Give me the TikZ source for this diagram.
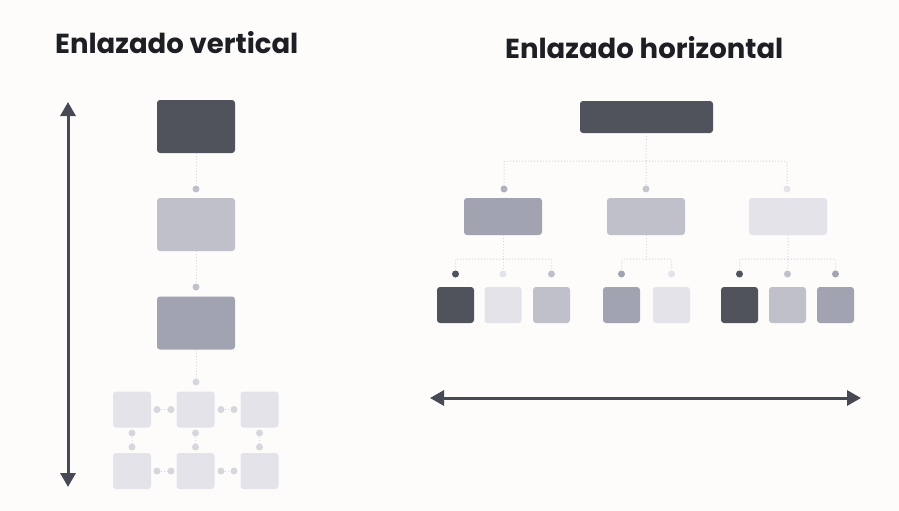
\documentclass[tikz,border=0pt]{standalone}
\usepackage{fontspec}
\setmainfont{Poppins}
\usepackage{tikz}
\usetikzlibrary{arrows.meta}

\definecolor{ink}{HTML}{1E1F24}
\definecolor{shaft}{HTML}{474A54}
\definecolor{tonea}{HTML}{50535B}
\definecolor{toneb}{HTML}{A2A3B0}
\definecolor{tonec}{HTML}{C0C0CA}
\definecolor{toned}{HTML}{E4E3EA}
\definecolor{wire}{HTML}{D6D6DD}
\definecolor{paper}{HTML}{FDFCFB}

\begin{document}
\begin{tikzpicture}[x=1pt,y=-1pt,
    box/.style={rounded corners=3pt,inner sep=0pt,outer sep=0pt},
    bigbox/.style={box,minimum width=78pt,minimum height=53pt},
    midbox/.style={box,minimum width=78pt,minimum height=37pt},
    rootbox/.style={box,minimum width=133pt,minimum height=32pt},
    leaf/.style={box,minimum width=37pt,minimum height=36pt},
    tile/.style={box,fill=toned,minimum width=38pt,minimum height=36pt},
    dot/.style={circle,inner sep=0pt,outer sep=0pt,minimum size=7pt},
    link/.style={draw=wire,line width=1pt,dotted},
    span/.style={draw=shaft,line width=3pt,{Triangle[length=14pt,width=15pt]}-{Triangle[length=14pt,width=15pt]}},
    title/.style={anchor=base west,inner sep=0pt,text=ink,font=\fontsize{27.5}{30}\selectfont\bfseries}]
  \fill[paper] (0,0) rectangle (899,511);

  \node[title] (tv) at (55,53) {Enlazado vertical};
  \node[title] (th) at (505,59) {Enlazado horizontal};

  % vertical chain
  \coordinate (vtop) at (68,102);
  \coordinate (vbot) at (68,487);
  \draw[span] (vbot) -- (vtop);

  \node[bigbox,fill=tonea] (v1) at (196,126.5) {};
  \node[bigbox,fill=tonec] (v2) at (196,224.5) {};
  \node[bigbox,fill=toneb] (v3) at (196,323) {};
  \node[dot,fill=tonec] (vd1) at (196,189) {};
  \node[dot,fill=tonec] (vd2) at (196,287) {};
  \node[dot,fill=wire] (vd3) at (196,382) {};
  \draw[link] (v1) -- (vd1);
  \draw[link] (v2) -- (vd2);
  \draw[link] (v3) -- (vd3);

  \foreach \c/\x in {1/132,2/195.5,3/259.5} {
    \node[tile] (g1\c) at (\x,409.5) {};
    \node[tile] (g2\c) at (\x,471) {};
  }
  \foreach \r/\y in {1/409.5,2/471} {
    \node[dot,fill=wire] (h\r a) at (157,\y) {};
    \node[dot,fill=wire] (h\r b) at (171,\y) {};
    \node[dot,fill=wire] (h\r c) at (221,\y) {};
    \node[dot,fill=wire] (h\r d) at (234,\y) {};
    \draw[link] (h\r a) -- (h\r b);
    \draw[link] (h\r c) -- (h\r d);
  }
  \foreach \c/\x in {1/132,2/195.5,3/259.5} {
    \node[dot,fill=wire] (u\c) at (\x,433) {};
    \node[dot,fill=wire] (w\c) at (\x,447) {};
    \draw[link] (u\c) -- (w\c);
  }

  % horizontal tree
  \node[rootbox,fill=tonea] (root) at (646.5,117) {};
  \coordinate (rj) at (646,161);
  \node[dot,fill=toneb!85] (da) at (504,189) {};
  \node[dot,fill=tonec!90] (db) at (646,189) {};
  \node[dot,fill=toned] (dc) at (787,189) {};
  \draw[link] (root) -- (rj) -- (db);
  \draw[link,rounded corners=2pt] (rj) -| (da);
  \draw[link,rounded corners=2pt] (rj) -| (dc);

  \node[midbox,fill=toneb] (ma) at (503,216.5) {};
  \node[midbox,fill=tonec] (mb) at (646,216.5) {};
  \node[midbox,fill=toned] (mc) at (788,216.5) {};

  \foreach \n/\x/\t in {1/455.5/tonea,2/503/toned,3/551.5/tonec,4/621.5/toneb,
      5/671.5/toned,6/739.5/tonea,7/787.5/tonec,8/835.5/toneb} {
    \node[leaf,fill=\t] (l\n) at (\x,305) {};
    \node[dot,fill=\t] (ld\n) at (\x,274) {};
  }
  \coordinate (ja) at (503,259);
  \coordinate (jb) at (646,259);
  \coordinate (jc) at (788,259);
  \draw[link] (ma) -- (ja) -- (ld2);
  \draw[link,rounded corners=2pt] (ja) -| (ld1);
  \draw[link,rounded corners=2pt] (ja) -| (ld3);
  \draw[link] (mb) -- (jb);
  \draw[link,rounded corners=2pt] (jb) -| (ld4);
  \draw[link,rounded corners=2pt] (jb) -| (ld5);
  \draw[link] (mc) -- (jc) -- (ld7);
  \draw[link,rounded corners=2pt] (jc) -| (ld6);
  \draw[link,rounded corners=2pt] (jc) -| (ld8);

  \coordinate (hl) at (430,398);
  \coordinate (hr) at (861,398);
  \draw[span] (hl) -- (hr);
\end{tikzpicture}
\end{document}
